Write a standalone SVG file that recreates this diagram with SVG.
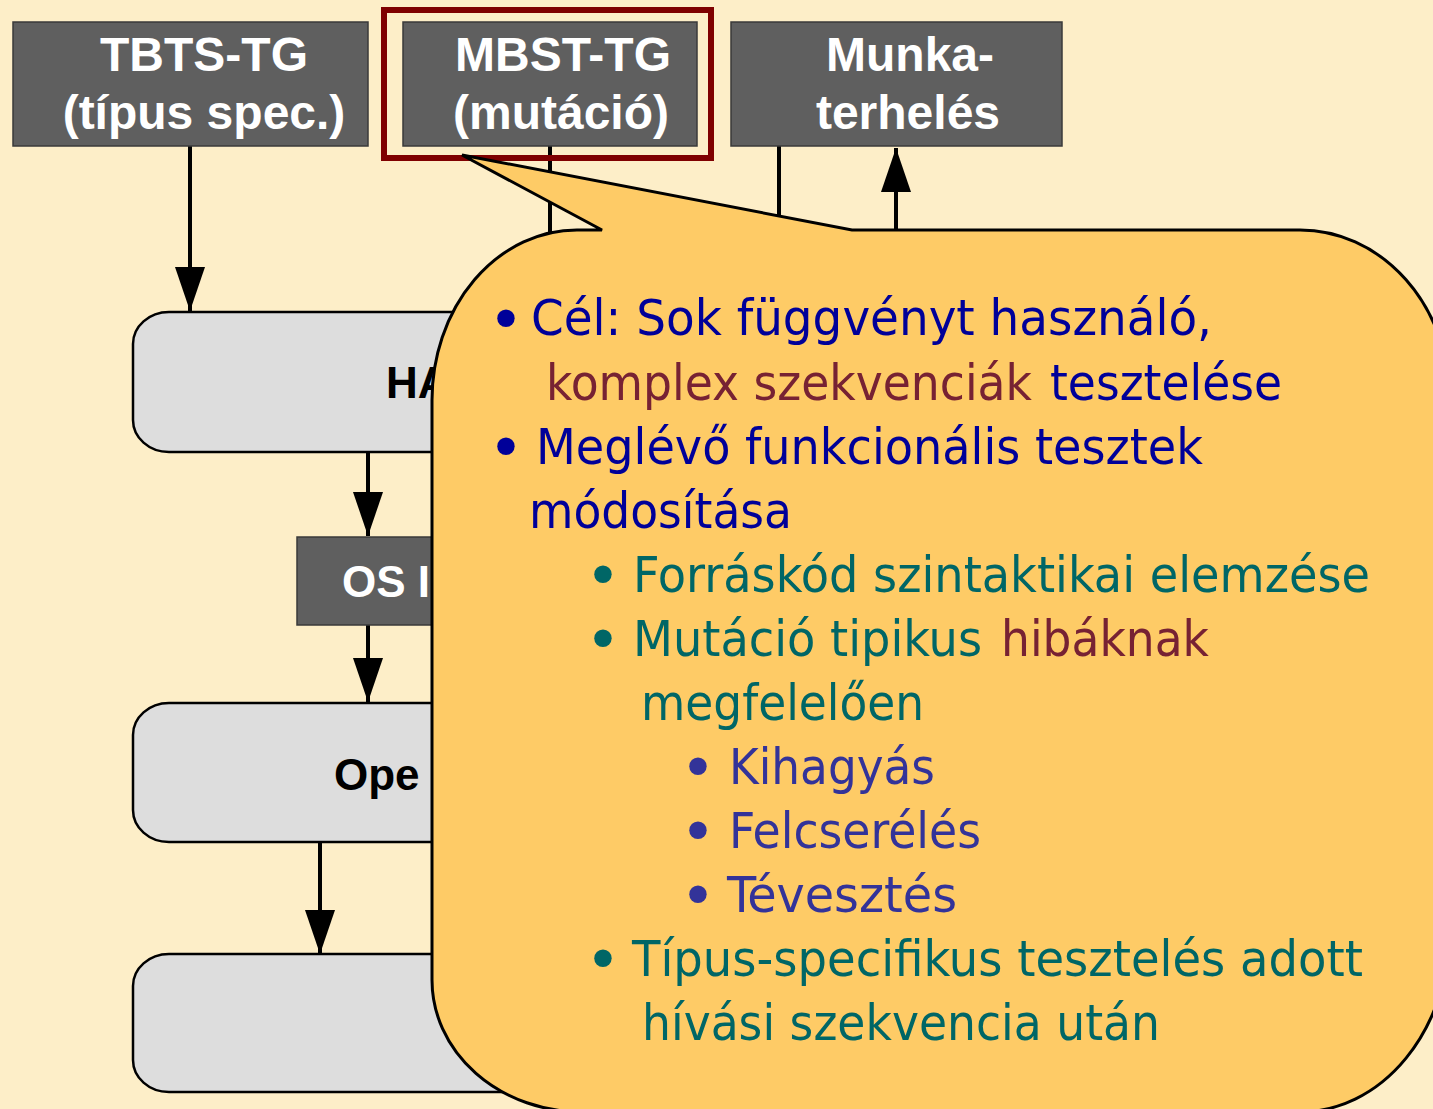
<svg xmlns="http://www.w3.org/2000/svg" width="1433" height="1109" viewBox="0 0 1433 1109">
<defs>
<style>
.bg{fill:#fdeec8}
.dark{fill:#5f5f5f;stroke:#3a3a3a;stroke-width:1.5}
.light{fill:#dddddd;stroke:#000;stroke-width:2.5}
.wt{font-family:"Liberation Sans",Arial,sans-serif;font-weight:bold;font-size:48px;fill:#fff;text-anchor:middle}
.bt{font-family:"Liberation Sans",Arial,sans-serif;font-weight:bold;font-size:44px;fill:#000}
.ws{font-family:"Liberation Sans",Arial,sans-serif;font-weight:bold;font-size:44px;fill:#fff}
.conn{stroke:#000;stroke-width:4;fill:none}
.ct{font-family:"DejaVu Sans Condensed","DejaVu Sans",sans-serif;font-size:50px}
.bul{font-family:"DejaVu Sans","Verdana",sans-serif;font-size:60px;text-anchor:middle}
.c1{fill:#000099}
.c2{fill:#772233}
.c3{fill:#006666}
.c4{fill:#333399}
</style>
<marker id="arr" viewBox="0 0 44 30" refX="44" refY="15" markerWidth="44" markerHeight="30" markerUnits="userSpaceOnUse" orient="auto">
<path d="M0,0 L44,15 L0,30 Z" fill="#000"/>
</marker>
</defs>
<rect class="bg" x="0" y="0" width="1433" height="1109"/>

<g id="connectors">
<path class="conn" d="M190,146 L190,311" marker-end="url(#arr)"/>
<path class="conn" d="M550,146 L550,245"/>
<path class="conn" d="M779,146 L779,245"/>
<path class="conn" d="M896,245 L896,148" marker-end="url(#arr)"/>
<path class="conn" d="M368,452 L368,536" marker-end="url(#arr)"/>
<path class="conn" d="M368,625 L368,702" marker-end="url(#arr)"/>
<path class="conn" d="M320,842 L320,954" marker-end="url(#arr)"/>
</g>

<g id="node-tbts">
<rect class="dark" x="13" y="22" width="355" height="124"/>
<text class="wt" x="204" y="71">TBTS-TG</text>
<text class="wt" x="204" y="129">(típus spec.)</text>
</g>
<g id="node-mbst">
<rect class="dark" x="403" y="22" width="294" height="124"/>
<text class="wt" x="563" y="71">MBST-TG</text>
<text class="wt" x="561" y="129">(mutáció)</text>
</g>
<g id="node-munka">
<rect class="dark" x="731" y="22" width="331" height="124"/>
<text class="wt" x="910" y="71">Munka-</text>
<text class="wt" x="908" y="129">terhelés</text>
</g>
<g id="highlight">
<rect x="384" y="10" width="327" height="148" fill="none" stroke="#7f0000" stroke-width="6"/>
</g>

<g id="node-hal">
<rect class="light" x="133" y="312" width="420" height="140" rx="36" ry="32"/>
<text class="bt" x="386" y="398">HA</text>
</g>
<g id="node-os">
<rect class="dark" x="297" y="537" width="250" height="88"/>
<text class="ws" x="342" y="597">OS I</text>
</g>
<g id="node-op">
<rect class="light" x="133" y="703" width="420" height="139" rx="36" ry="32"/>
<text class="bt" x="334" y="790">Ope</text>
</g>
<g id="node-bottom">
<rect class="light" x="133" y="954" width="420" height="138" rx="36" ry="32"/>
</g>

<g id="callout">
<path d="M602,230 L462,155 L852,230 L1300,230 A150,170 0 0 1 1450,400 L1450,928 A150,184 0 0 1 1300,1112 L582,1112 A150,132 0 0 1 432,980 L432,400 A145,170 0 0 1 577,230 Z" fill="#fecb66" stroke="#000" stroke-width="3" stroke-linejoin="miter"/>
<text class="bul c1" x="506" y="341">•</text>
<text class="ct c1" x="531" y="335" textLength="681" lengthAdjust="spacingAndGlyphs">Cél: Sok függvényt használó,</text>
<text class="ct c2" x="546" y="400" textLength="486" lengthAdjust="spacingAndGlyphs">komplex szekvenciák</text>
<text class="ct c1" x="1050" y="400" textLength="232" lengthAdjust="spacingAndGlyphs">tesztelése</text>
<text class="bul c1" x="506" y="469">•</text>
<text class="ct c1" x="536" y="464" textLength="667" lengthAdjust="spacingAndGlyphs">Meglévő funkcionális tesztek</text>
<text class="ct c1" x="529" y="528" textLength="263" lengthAdjust="spacingAndGlyphs">módosítása</text>
<text class="bul c3" x="603" y="597">•</text>
<text class="ct c3" x="633" y="592" textLength="737" lengthAdjust="spacingAndGlyphs">Forráskód szintaktikai elemzése</text>
<text class="bul c3" x="603" y="661">•</text>
<text class="ct c3" x="633" y="656" textLength="349" lengthAdjust="spacingAndGlyphs">Mutáció tipikus</text>
<text class="ct c2" x="1001" y="656" textLength="208" lengthAdjust="spacingAndGlyphs">hibáknak</text>
<text class="ct c3" x="641" y="720" textLength="283" lengthAdjust="spacingAndGlyphs">megfelelően</text>
<text class="bul c4" x="698" y="789">•</text>
<text class="ct c4" x="729" y="784" textLength="206" lengthAdjust="spacingAndGlyphs">Kihagyás</text>
<text class="bul c4" x="698" y="853">•</text>
<text class="ct c4" x="729" y="848" textLength="252" lengthAdjust="spacingAndGlyphs">Felcserélés</text>
<text class="bul c4" x="698" y="917">•</text>
<text class="ct c4" x="727" y="912" textLength="230" lengthAdjust="spacingAndGlyphs">Tévesztés</text>
<text class="bul c3" x="603" y="981">•</text>
<text class="ct c3" x="632" y="976" textLength="731" lengthAdjust="spacingAndGlyphs">Típus-specifikus tesztelés adott</text>
<text class="ct c3" x="642" y="1040" textLength="518" lengthAdjust="spacingAndGlyphs">hívási szekvencia után</text>
</g>
</svg>
